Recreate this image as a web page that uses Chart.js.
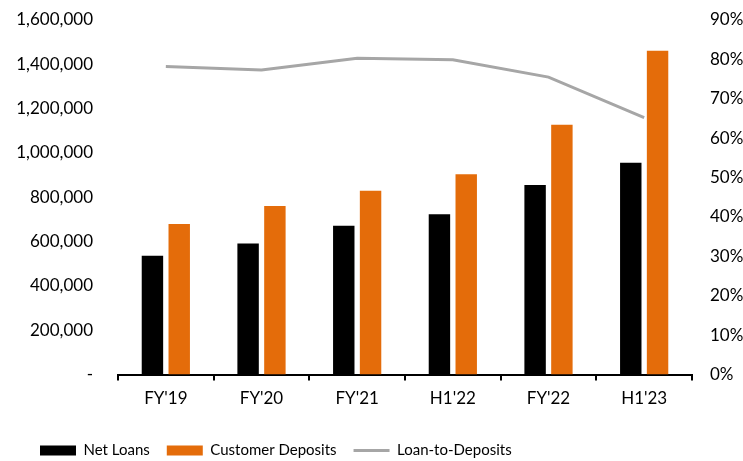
<!DOCTYPE html>
<html>
<head>
<meta charset="utf-8">
<script src="https://cdn.jsdelivr.net/npm/chart.js@4.4.1/dist/chart.umd.min.js"></script>
<style>
  html, body { margin: 0; padding: 0; background: #fff; }
  #wrap { width: 743px; height: 461px; }
</style>
</head>
<body>
<div id="wrap"><canvas id="chart" width="743" height="461"></canvas></div>
<script>
var categories = ["FY'19", "FY'20", "FY'21", "H1'22", "FY'22", "H1'23"];
var netLoans = [536000, 591000, 672000, 724000, 856000, 956000];
var customerDeposits = [680000, 761000, 830000, 904000, 1127000, 1461000];
var loanToDeposits = [78.2, 77.3, 80.3, 79.9, 75.5, 65.2];

var FONT = "Lato, 'DejaVu Sans', sans-serif";

// nudge the legend a little, chart.js has no option for that
var legendNudge = {
    id: 'legendNudge',
    afterLayout: function (chart) {
        var lg = chart.legend;
        if (lg) {
            lg.top += 9;
            lg.bottom += 9;
            lg.left += 23;
            lg.right += 23;
        }
    }
};

function keepTop(scale) {
    // tick padding is only wanted sideways, not above/below the axis
    scale.paddingTop = 20;
    scale.paddingBottom = 10;
}

(function () {
    "use strict";
    Chart.defaults.font.family = FONT;
    Chart.defaults.font.size = 17;
    Chart.defaults.color = '#000';

    var ctx = document.getElementById('chart').getContext('2d');
    new Chart(ctx, {
        type: 'bar',
        data: {
            labels: categories,
            datasets: [
                {
                    label: 'Net Loans',
                    data: netLoans,
                    backgroundColor: '#000000',
                    yAxisID: 'y',
                    categoryPercentage: 0.56,
                    barPercentage: 0.8,
                    order: 2
                },
                {
                    label: 'Customer Deposits',
                    data: customerDeposits,
                    backgroundColor: '#E46C0A',
                    yAxisID: 'y',
                    categoryPercentage: 0.56,
                    barPercentage: 0.8,
                    order: 2
                },
                {
                    type: 'line',
                    label: 'Loan-to-Deposits',
                    data: loanToDeposits,
                    borderColor: '#A6A6A6',
                    backgroundColor: '#A6A6A6',
                    borderWidth: 3,
                    pointRadius: 0,
                    tension: 0,
                    yAxisID: 'y1',
                    order: 1
                }
            ]
        },
        plugins: [legendNudge],
        options: {
            responsive: false,
            animation: false,
            layout: { padding: { top: 0, left: 0, right: 0, bottom: 2 } },
            plugins: {
                tooltip: { enabled: false },
                legend: {
                    position: 'bottom',
                    align: 'start',
                    labels: {
                        usePointStyle: true,
                        pointStyleWidth: 36,
                        boxHeight: 10,
                        padding: 17,
                        font: { size: 15 },
                        sort: function (a, b) { return a.datasetIndex - b.datasetIndex; },
                        generateLabels: function (chart) {
                            var items = Chart.defaults.plugins.legend.labels.generateLabels(chart);
                            items.forEach(function (it) {
                                if (it.datasetIndex === 2) {
                                    it.pointStyle = 'line';
                                    it.strokeStyle = '#A6A6A6';
                                    it.lineWidth = 3;
                                } else {
                                    it.pointStyle = 'rect';
                                    it.lineWidth = 0;
                                }
                            });
                            return items;
                        }
                    }
                }
            },
            scales: {
                x: {
                    offset: true,
                    grid: {
                        display: true,
                        drawOnChartArea: false,
                        drawTicks: true,
                        tickLength: 6,
                        color: '#000',
                        lineWidth: 2,
                        offset: true
                    },
                    border: { display: true, color: '#000', width: 2 },
                    ticks: { padding: 8, maxRotation: 0 }
                },
                y: {
                    position: 'left',
                    min: 0,
                    max: 1600000,
                    grid: { display: false, drawTicks: false },
                    border: { display: false },
                    ticks: {
                        stepSize: 200000,
                        padding: 25,
                        callback: function (v) {
                            return v === 0 ? '-' : v.toLocaleString('en-US');
                        }
                    },
                    afterFit: function (scale) { scale.width = 118; keepTop(scale); }
                },
                y1: {
                    position: 'right',
                    min: 0,
                    max: 90,
                    grid: { display: false, drawTicks: false },
                    border: { display: false },
                    ticks: {
                        stepSize: 10,
                        padding: 18,
                        callback: function (v) { return v + '%'; }
                    },
                    afterFit: function (scale) { scale.width = 51; keepTop(scale); }
                }
            }
        }
    });
})();
</script>
</body>
</html>
